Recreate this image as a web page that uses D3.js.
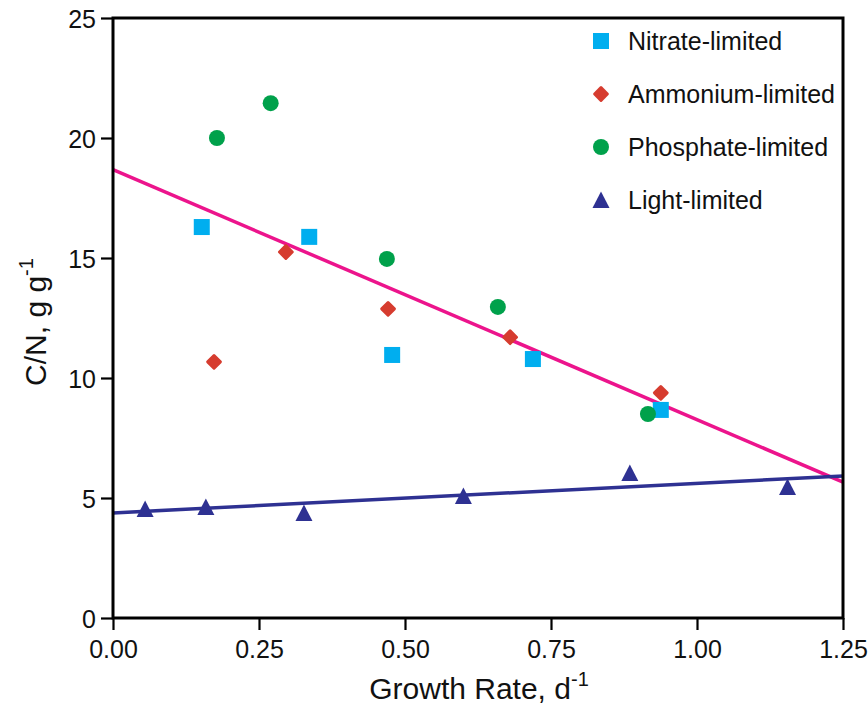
<!DOCTYPE html>
<html>
<head>
<meta charset="UTF-8">
<script src="https://cdn.jsdelivr.net/npm/d3@7"></script>
<style>
  body { margin: 0; background: #fff; }
  svg { display: block; font-family: 'Liberation Sans', Arial, sans-serif; }
</style>
</head>
<body>
<svg id="chart" width="868" height="705"></svg>
<script>
// values
const xTicks = [0, 0.25, 0.5, 0.75, 1.0, 1.25];
const yTicks = [0, 5, 10, 15, 20, 25];

const nitrate   = [[0.152, 16.29], [0.336, 15.88], [0.478, 10.96], [0.719, 10.79], [0.938, 8.67]];
const ammonium  = [[0.173, 10.67], [0.296, 15.25], [0.471, 12.88], [0.680, 11.70], [0.938, 9.38]];
const phosphate = [[0.178, 20.00], [0.270, 21.45], [0.469, 14.96], [0.659, 12.96], [0.916, 8.50]];
const light     = [[0.055, 4.54], [0.159, 4.63], [0.327, 4.37], [0.600, 5.08], [0.885, 6.04], [1.155, 5.46]];

// fitted lines, end points as drawn
const nutrientFit = [[0, 18.68], [1.25, 5.66]];
const lightFit    = [[0, 4.38], [1.25, 5.92]];

const seriesNames = ['Nitrate-limited', 'Ammonium-limited', 'Phosphate-limited', 'Light-limited'];

const W = 868, H = 705;
const m = { top: 18, right: 25, bottom: 87, left: 113 };
const svg = d3.select('#chart');

const x = d3.scaleLinear().domain([0, 1.25]).range([m.left, W - m.right]);
const y = d3.scaleLinear().domain([0, 25]).range([H - m.bottom, m.top]);

const g = svg.append('g');

// fit lines
const line = d3.line().x(d => x(d[0])).y(d => y(d[1]));
g.append('path').attr('d', line(nutrientFit)).attr('fill', 'none')
  .attr('stroke', '#ec148c').attr('stroke-width', 3.5);
g.append('path').attr('d', line(lightFit)).attr('fill', 'none')
  .attr('stroke', '#2e3192').attr('stroke-width', 3.5);

// marker shapes
const sq = 16;
function square(sel) { sel.append('rect').attr('x', -sq / 2).attr('y', -sq / 2).attr('width', sq).attr('height', sq).attr('fill', '#00aeef'); }
function diamond(sel) { sel.append('rect').attr('x', -6).attr('y', -6).attr('width', 12).attr('height', 12).attr('rx', 1.5).attr('transform', 'rotate(45)').attr('fill', '#d63c2f'); }
function circle(sel) { sel.append('circle').attr('r', 8).attr('fill', '#00a14b'); }
function triangle(sel) { sel.append('path').attr('d', 'M0,-8.5L8.5,8L-8.5,8Z').attr('fill', '#2e3192'); }

const series = [
  { data: nitrate, shape: square },
  { data: ammonium, shape: diamond },
  { data: phosphate, shape: circle },
  { data: light, shape: triangle },
];

series.forEach(s => {
  g.append('g').selectAll('g').data(s.data).join('g')
    .attr('transform', d => `translate(${x(d[0])},${y(d[1])})`)
    .each(function() { s.shape(d3.select(this)); });
});

// axes + frame
const xAxis = svg.append('g').attr('transform', `translate(0,${H - m.bottom})`)
  .call(d3.axisBottom(x).tickValues(xTicks).tickFormat(d3.format('.2f')).tickSize(12).tickPadding(10));
const yAxis = svg.append('g').attr('transform', `translate(${m.left},0)`)
  .call(d3.axisLeft(y).tickValues(yTicks).tickSize(12).tickPadding(5));
[xAxis, yAxis].forEach(a => {
  a.select('.domain').remove();
  a.selectAll('line').attr('stroke', '#000').attr('stroke-width', 2.2);
  a.selectAll('text').attr('fill', '#111').attr('font-size', 25).attr('font-family', "'Liberation Sans', Arial, sans-serif");
});
yAxis.selectAll('text').attr('dy', '0.36em');

svg.append('rect')
  .attr('x', m.left).attr('y', m.top)
  .attr('width', W - m.left - m.right).attr('height', H - m.top - m.bottom)
  .attr('fill', 'none').attr('stroke', '#000').attr('stroke-width', 3);

// axis titles
const xt = svg.append('text').attr('x', 479).attr('y', 699).attr('text-anchor', 'middle')
  .attr('font-size', 30).attr('fill', '#111');
xt.append('tspan').text('Growth Rate, d');
xt.append('tspan').attr('font-size', 20).attr('dy', -13).text('-1');

const yt = svg.append('text').attr('transform', 'translate(46,322) rotate(-90)').attr('text-anchor', 'middle')
  .attr('font-size', 30).attr('fill', '#111');
yt.append('tspan').text('C/N, g g');
yt.append('tspan').attr('font-size', 20).attr('dy', -13).text('-1');

// legend
const legend = svg.append('g');
seriesNames.forEach((name, i) => {
  const row = legend.append('g').attr('transform', `translate(601,${41 + i * 53})`);
  series[i].shape(row);
  row.append('text').attr('x', 27).attr('y', 9).attr('font-size', 25).attr('fill', '#111').text(name);
});
</script>
</body>
</html>
